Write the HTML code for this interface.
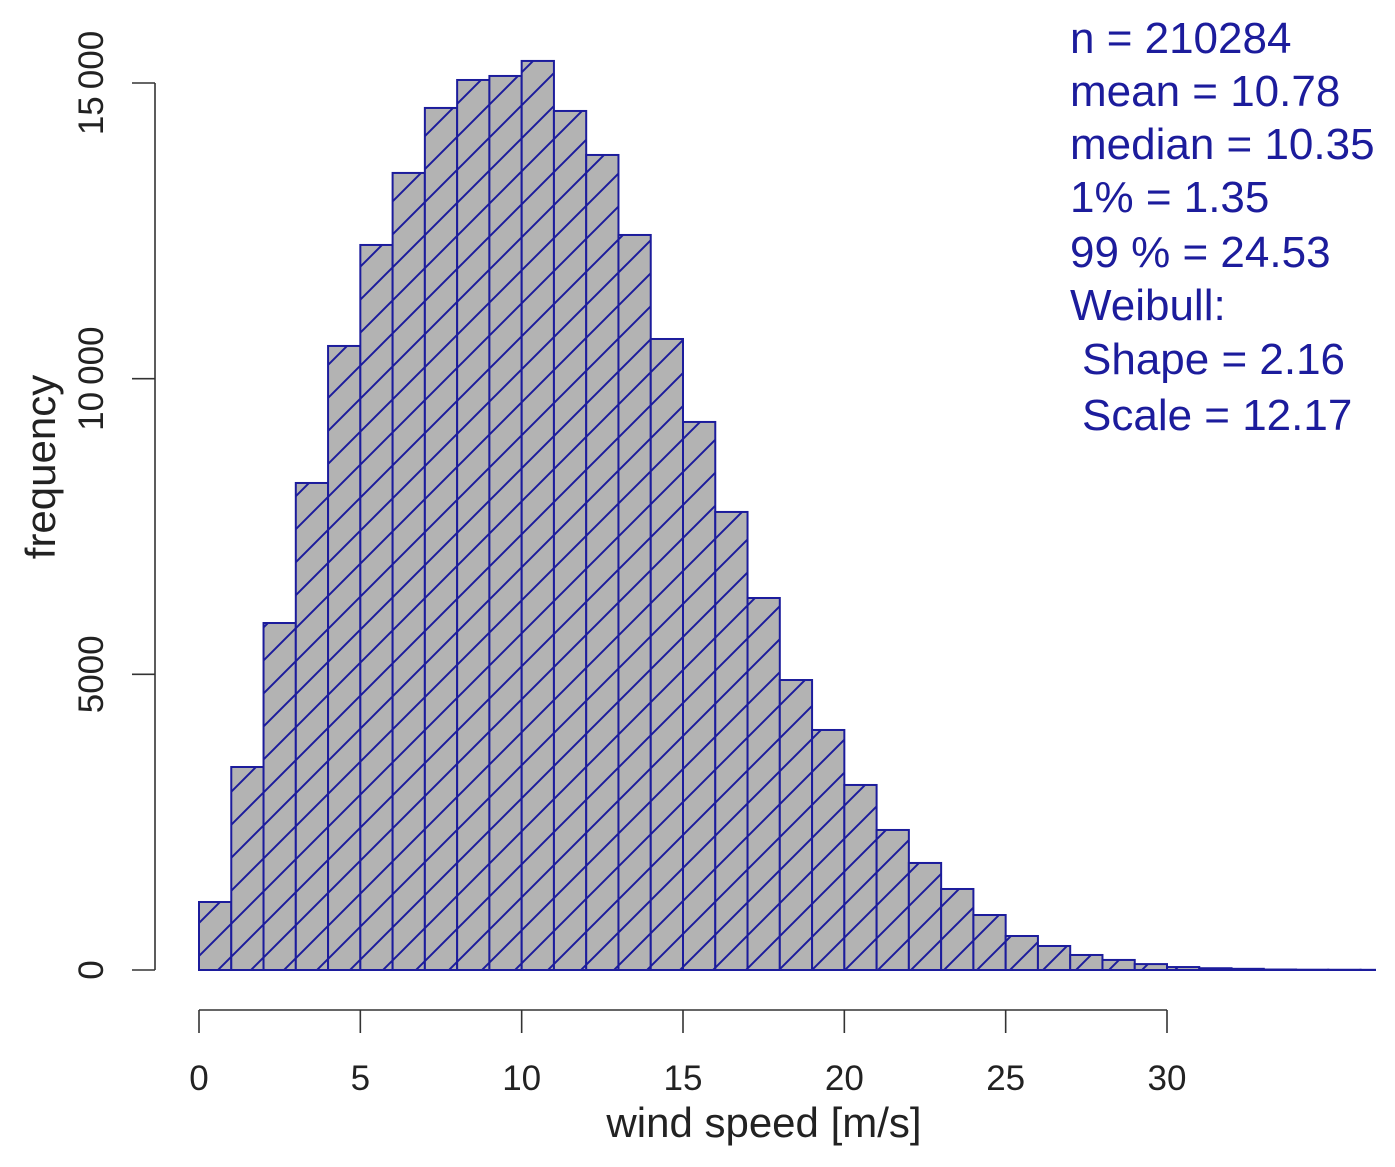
<!DOCTYPE html>
<html><head><meta charset="utf-8"><style>
html,body{margin:0;padding:0;background:#fff;}
svg{display:block;font-family:"Liberation Sans",sans-serif;}
</style></head><body>
<svg id="chart" width="1395" height="1167" viewBox="0 0 1395 1167" xmlns="http://www.w3.org/2000/svg">
<defs>
<pattern id="hatch" patternUnits="userSpaceOnUse" width="33" height="33">
<line x1="-2" y1="35" x2="35" y2="-2" stroke="#1c1c9c" stroke-width="2"/>
<line x1="-10" y1="10" x2="10" y2="-10" stroke="#1c1c9c" stroke-width="2"/>
<line x1="23" y1="43" x2="43" y2="23" stroke="#1c1c9c" stroke-width="2"/>
</pattern>
</defs>
<g id="bars"></g>
<g id="axes"></g>
<text x="764" y="1137" font-size="42" text-anchor="middle" fill="#222">wind speed [m/s]</text>
<text transform="translate(55,467) rotate(-90)" font-size="42" text-anchor="middle" fill="#222">frequency</text>
<g font-size="44" fill="#1c1c9c">
<text x="1070" y="53">n = 210284</text>
<text x="1070" y="106">mean = 10.78</text>
<text x="1070" y="159">median = 10.35</text>
<text x="1070" y="212">1% = 1.35</text>
<text x="1070" y="267">99 % = 24.53</text>
<text x="1070" y="320">Weibull:</text>
<text x="1082" y="374">Shape = 2.16</text>
<text x="1082" y="430">Scale = 12.17</text>
</g>
</svg>
<script>
const binStarts=[0,1,2,3,4,5,6,7,8,9,10,11,12,13,14,15,16,17,18,19,20,21,22,23,24,25,26,27,28,29,30,31,32,33,34,35,36];
const counts=[1150,3433,5868,8236,10553,12261,13479,14578,15051,15119,15373,14527,13783,12430,10671,9268,7746,6291,4904,4059,3129,2368,1810,1370,930,575,406,254,170,100,50,30,20,8,5,4,3];
const xTicks=[0,5,10,15,20,25,30];
const yTicks=[0,5000,10000,15000];
const yTickLabels=["0","5000","10\u2009000","15\u2009000"];
const binWidth=1;
const NS="http://www.w3.org/2000/svg";
const X=v=>199+v*(1167-199)/30;
const Y=v=>970-v*(970-83)/15000;
const bars=document.getElementById('bars');
const axes=document.getElementById('axes');
binStarts.forEach((b,i)=>{
  const x0=X(b), x1=Math.min(X(b+binWidth),1375);
  if(x1<=x0) return;
  const y=Y(counts[i]);
  const r=document.createElementNS(NS,'rect');
  
  
  r.setAttribute('x',x0);r.setAttribute('y',y);
  r.setAttribute('width',x1-x0);r.setAttribute('height',970-y);
  r.setAttribute('fill','#b3b3b3');
  bars.appendChild(r);
  const h=document.createElementNS(NS,'rect');
  
  
  h.setAttribute('x',x0);h.setAttribute('y',y);
  h.setAttribute('width',x1-x0);h.setAttribute('height',970-y);
  h.setAttribute('fill','url(#hatch)');
  h.setAttribute('stroke','#1c1c9c');h.setAttribute('stroke-width','2');
  bars.appendChild(h);
});
function line(x1,y1,x2,y2,name){
  const l=document.createElementNS(NS,'line');
  
  
  l.setAttribute('x1',x1);l.setAttribute('y1',y1);l.setAttribute('x2',x2);l.setAttribute('y2',y2);
  l.setAttribute('stroke','#333');l.setAttribute('stroke-width','1.6');
  axes.appendChild(l);
}
line(X(xTicks[0]),1010,X(xTicks[xTicks.length-1]),1010,'x-axis-line');
xTicks.forEach(t=>{
  line(X(t),1010,X(t),1033,'x-tick');
  const tx=document.createElementNS(NS,'text');
  
  
  tx.setAttribute('x',X(t));tx.setAttribute('y',1090);
  tx.setAttribute('font-size','35');tx.setAttribute('text-anchor','middle');tx.setAttribute('fill','#222');
  tx.textContent=t;axes.appendChild(tx);
});
line(155,Y(yTicks[0]),155,Y(yTicks[yTicks.length-1]),'y-axis-line');
yTicks.forEach((t,i)=>{
  line(132,Y(t),155,Y(t),'y-tick');
  const tx=document.createElementNS(NS,'text');
  
  
  tx.setAttribute('transform','translate(103,'+Y(t)+') rotate(-90)');
  tx.setAttribute('font-size','35');tx.setAttribute('text-anchor','middle');tx.setAttribute('fill','#222');
  tx.textContent=yTickLabels[i];axes.appendChild(tx);
});
</script>
</body></html>
